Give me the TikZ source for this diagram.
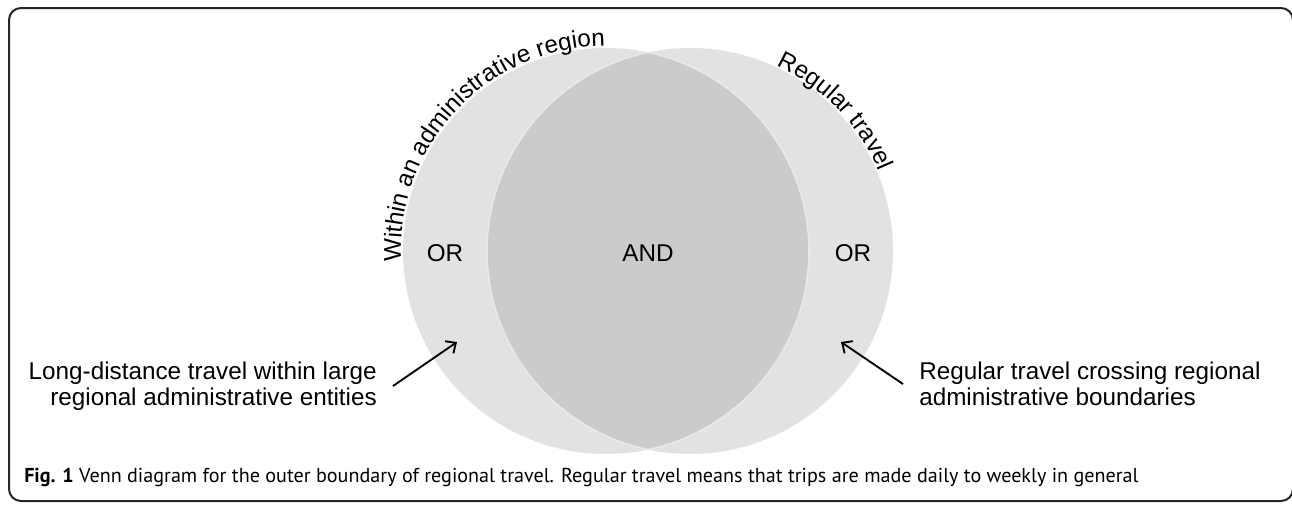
\documentclass[tikz,border=0pt]{standalone}
\usepackage{fontspec}
\setmainfont{Liberation Sans}
\newfontfamily\captionfont{PT Sans}
\usepackage{xcolor}
\usetikzlibrary{positioning}
\usetikzlibrary{arrows.meta}
\usetikzlibrary{decorations.text}
\definecolor{circlegray}{HTML}{E2E2E2}
\definecolor{lensgray}{HTML}{CBCBCB}
\definecolor{rimgray}{HTML}{E9E9E9}
\newcommand{\labelsize}{\fontsize{18.2}{19.4}\selectfont}

\begin{document}
\begin{tikzpicture}[x=0.75pt, y=0.75pt,
        venn label/.style={font=\labelsize, align=center},
        side label/.style={font=\labelsize, inner xsep=12pt},
        pointer/.style={-{Straight Barb[length=6pt, width=11pt]}, line width=1.4pt}]
        \useasboundingbox (0,0) rectangle (1292,-504);
        \draw[line width=1.5pt, rounded corners=9pt, black!85] (9,-8) rectangle (1293,-501);

        % the two sets and their overlap
        \coordinate (admin_center) at (606,-251);
        \coordinate (regular_center) at (690,-251);
        \fill[circlegray] (admin_center) circle[radius=203];
        \fill[circlegray] (regular_center) circle[radius=203];
        \begin{scope}
            \clip (admin_center) circle[radius=203];
            \fill[lensgray] (regular_center) circle[radius=203];
            \draw[rimgray, line width=1.2pt] (regular_center) circle[radius=203];
        \end{scope}
        \begin{scope}
            \clip (regular_center) circle[radius=203];
            \draw[rimgray, line width=1.2pt] (admin_center) circle[radius=203];
        \end{scope}

        \node[venn label] (or_admin) at (445,-253) {OR};
        \node[venn label] (and_both) at (648,-253) {AND};
        \node[venn label] (or_regular) at (853,-253) {OR};

        \path[decorate, decoration={text along path, text={|\labelsize|Within an administrative region}}]
            ([shift={(183:205)}]admin_center) arc[start angle=183, end angle=60, radius=205];
        \path[decorate, decoration={text along path, text={|\labelsize|Regular travel}}]
            ([shift={(65:205)}]regular_center) arc[start angle=65, end angle=-20, radius=205];

        \node[side label, align=right, anchor=east] (long_distance) at (393,-386) {Long-distance travel within large\\regional administrative entities};
        \node[side label, align=left, anchor=west] (regular_cross) at (903,-384) {Regular travel crossing regional\\administrative boundaries};
        \coordinate (admin_tip) at (457,-342);
        \coordinate (regular_tip) at (841,-342);
        \draw[pointer] (long_distance.east) -- (admin_tip);
        \draw[pointer] (regular_cross.west) -- (regular_tip);

        \node[anchor=base west, inner sep=0pt, font=\captionfont\fontsize{15.1}{18}\selectfont] (fig_caption) at (24,-482)
            {\textbf{Fig. 1} Venn diagram for the outer boundary of regional travel. Regular travel means that trips are made daily to weekly in general};
\end{tikzpicture}
\end{document}
